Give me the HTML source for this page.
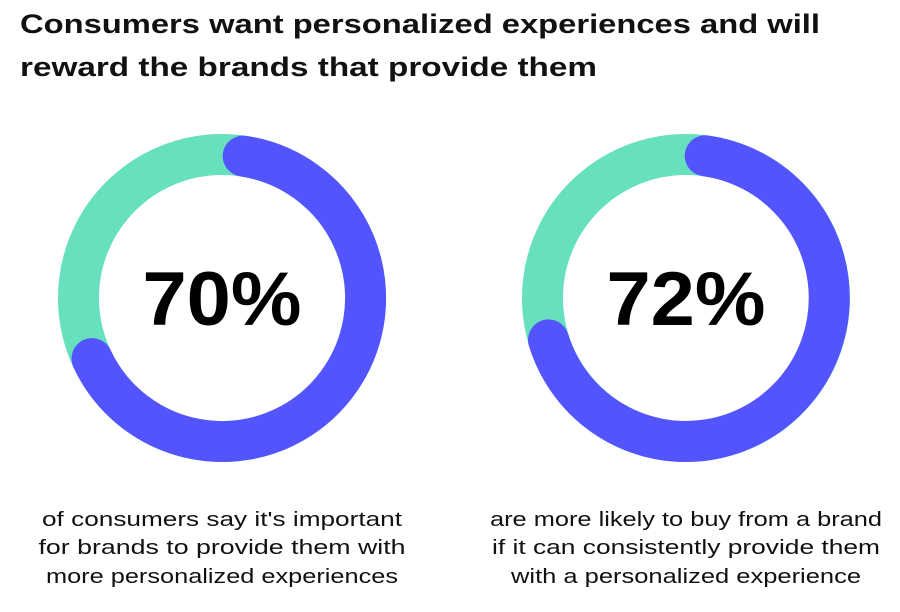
<!DOCTYPE html>
<html><head><meta charset="utf-8"><style>
html,body{margin:0;padding:0;background:#fff;}
svg{display:block;font-family:"Liberation Sans",sans-serif;}
</style></head><body>
<svg width="900" height="612" viewBox="0 0 900 612">
<text x="20" y="33" font-size="27" font-weight="bold" fill="#111" textLength="800" lengthAdjust="spacingAndGlyphs">Consumers want personalized experiences and will</text>
<text x="20" y="76" font-size="27" font-weight="bold" fill="#111" textLength="577" lengthAdjust="spacingAndGlyphs">reward the brands that provide them</text>

<g fill="none" stroke-width="41">
<circle cx="222" cy="298" r="143.5" stroke="#67e0bd"/>
<path d="M243.2 156.1 A143.5 143.5 0 1 1 92 358.6" stroke="#5454fe" stroke-linecap="round"/>
<circle cx="686" cy="298" r="143.5" stroke="#67e0bd"/>
<path d="M705.2 155.8 A143.5 143.5 0 1 1 548.5 339.9" stroke="#5454fe" stroke-linecap="round"/>
</g>

<text x="222" y="325" font-size="76" font-weight="bold" text-anchor="middle" fill="#000" textLength="159" lengthAdjust="spacingAndGlyphs">70%</text>
<text x="686" y="325" font-size="76" font-weight="bold" text-anchor="middle" fill="#000" textLength="159" lengthAdjust="spacingAndGlyphs">72%</text>

<g font-size="20" fill="#111" text-anchor="middle">
<text x="222" y="526" textLength="360" lengthAdjust="spacingAndGlyphs">of consumers say it's important</text>
<text x="222" y="554" textLength="367" lengthAdjust="spacingAndGlyphs">for brands to provide them with</text>
<text x="222" y="583" textLength="352" lengthAdjust="spacingAndGlyphs">more personalized experiences</text>
<text x="686" y="526" textLength="392" lengthAdjust="spacingAndGlyphs">are more likely to buy from a brand</text>
<text x="686" y="554" textLength="388" lengthAdjust="spacingAndGlyphs">if it can consistently provide them</text>
<text x="686" y="583" textLength="350" lengthAdjust="spacingAndGlyphs">with a personalized experience</text>
</g>
</svg>
</body></html>
